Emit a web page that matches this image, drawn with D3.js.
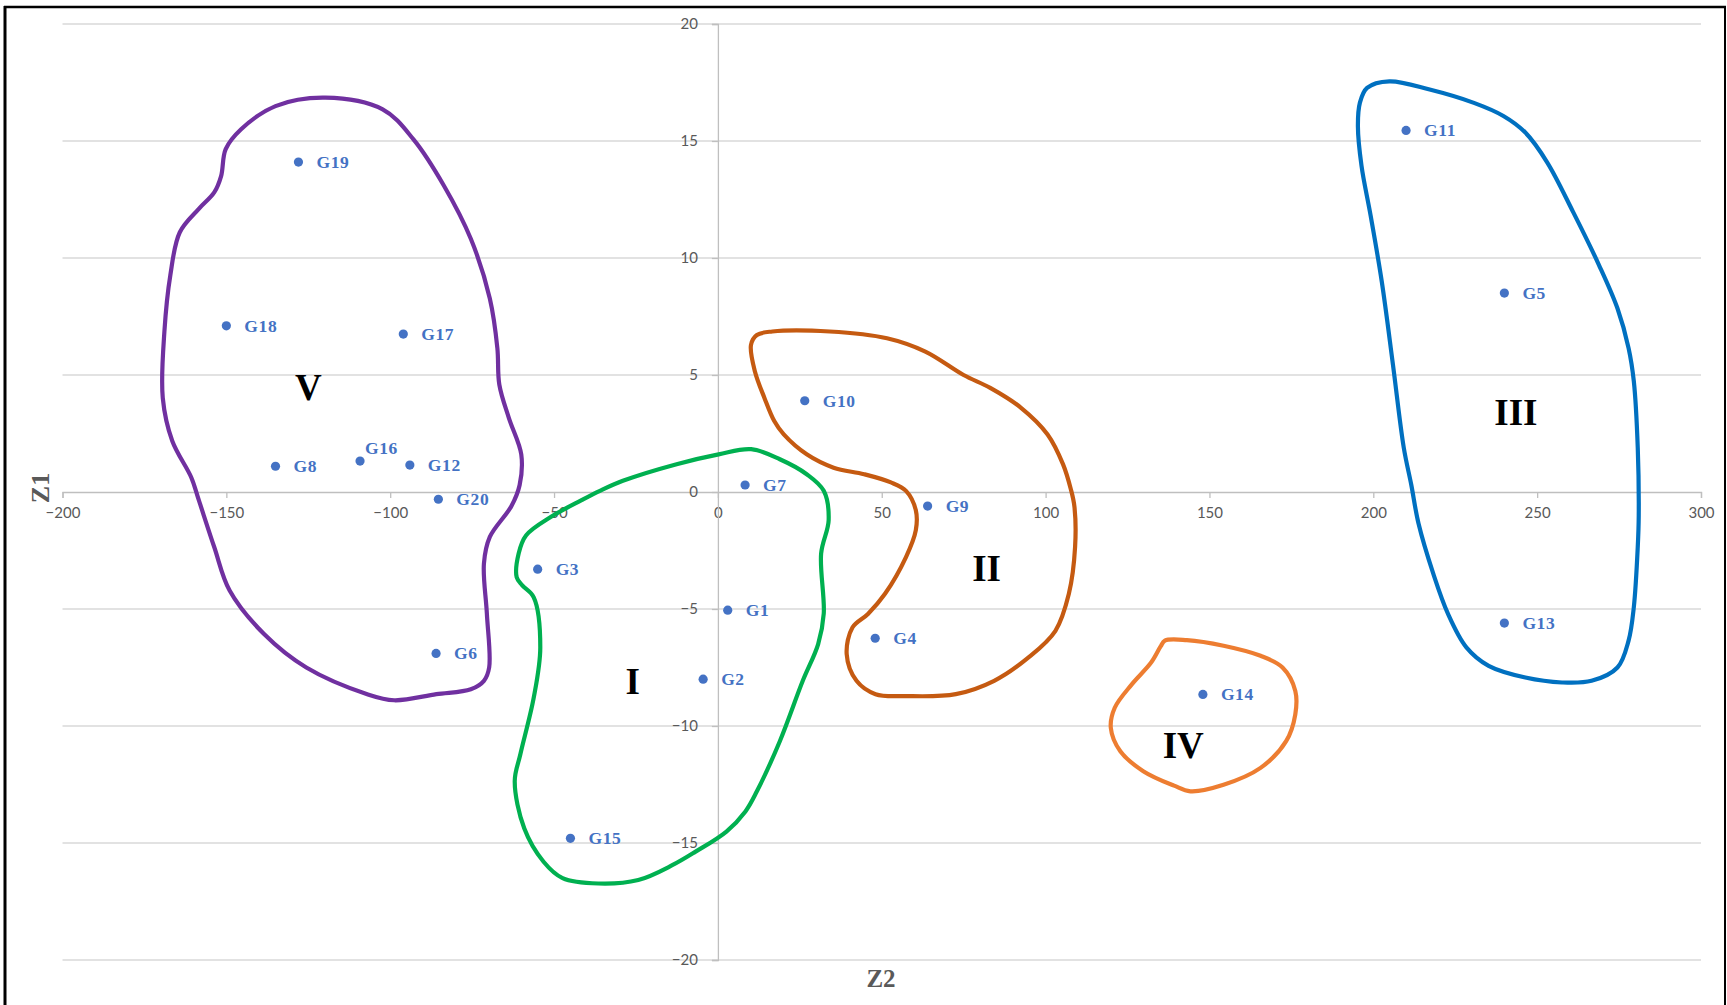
<!DOCTYPE html>
<html>
<head>
<meta charset="utf-8">
<script src="https://cdn.jsdelivr.net/npm/d3@7"></script>
<style>
  body { margin: 0; background: #ffffff; }
  svg { display: block; }
</style>
</head>
<body>
<svg id="chart" width="1727" height="1005"></svg>
<script>
// Genotype scores on the two discriminant axes
const genotypes = ["G1","G2","G3","G4","G5","G6","G7","G8","G9","G10",
                   "G11","G12","G13","G14","G15","G16","G17","G18","G19","G20"];
const z2Scores = [3, -4.5, -55, 48, 240, -86, 8.3, -135, 64, 26.5,
                  210, -94, 240, 148, -45, -109.2, -96, -150, -128, -85.3];
const z1Scores = [-5.05, -8, -3.3, -6.25, 8.5, -6.9, 0.3, 1.1, -0.6, 3.9,
                  15.45, 1.15, -5.6, -8.65, -14.8, 1.32, 6.75, 7.1, 14.1, -0.31];

// Axis ticks
const z2Ticks = [-200, -150, -100, -50, 0, 50, 100, 150, 200, 250, 300];
const z1Ticks = [-20, -15, -10, -5, 0, 5, 10, 15, 20];

// Cluster names and the hand-drawn boundaries around them (Z2, Z1)
const clusterNames = ["I", "II", "III", "IV", "V"];
const clusterCentres = [[-26, -8.1], [82, -3.3], [243.5, 3.4], [142, -10.85], [-125, 4.45]];
const boundaryI = [[10.15,1.83],[18.9,1.4],[27.1,0.76],[32.3,0.05],[33.8,-1.2],[31.5,-2.63],[32.3,-5.2],
  [30.6,-6.5],[25.9,-8.07],[18.9,-10.65],[11.9,-12.79],[8.4,-13.65],[2.6,-14.51],[-6.8,-15.37],
  [-13.8,-15.94],[-24.3,-16.58],[-36.5,-16.73],[-47.4,-16.5],[-53.2,-15.8],[-59.1,-14.37],[-62,-12.36],
  [-60.3,-11.22],[-56.2,-8.79],[-54.2,-6.64],[-56.2,-4.5],[-59.7,-3.99],[-61.4,-3.64],[-60.8,-2.63],
  [-58.5,-1.85],[-50.9,-1.06],[-41.6,-0.35],[-36,0.05],[-29,0.48],[-12.6,1.19],[0.22,1.61]];
const boundaryII = [[11.9,6.71],[16.6,6.86],[34.1,6.86],[51.6,6.57],[63.3,6.0],[74.96,5.0],[83.1,4.45],
  [92.5,3.6],[100.6,2.46],[105.3,1.19],[107.7,0.12],[108.8,-0.63],[109,-2.35],[107.1,-4.35],[103,-5.93],
  [94.8,-7.07],[84.3,-8.07],[72.6,-8.64],[57.4,-8.72],[48.1,-8.64],[42.3,-8.07],[39.3,-6.93],[41.1,-5.78],
  [45.8,-5.21],[51,-4.35],[57.4,-2.78],[60.4,-1.63],[60.4,-0.78],[57.4,0.05],[52.8,0.41],[44.6,0.76],
  [35.3,1.04],[27.1,1.61],[20.1,2.46],[17.2,3.03],[14.2,4.02],[11.3,5.15],[10.1,6.29]];
const boundaryIII = [[204.9,17.55],[217.2,17.2],[230.7,16.63],[239.7,16.07],[246.4,15.36],[253.1,14.08],
  [261,11.96],[268.9,9.69],[274.5,7.85],[277.9,6.15],[279.5,4.73],[280.7,1.89],[281,-1.0],[280.7,-2.35],
  [279.5,-4.92],[277.9,-6.35],[274.5,-7.5],[266.6,-8.07],[257.6,-8.14],[246.4,-7.93],[235.2,-7.43],
  [228.4,-6.64],[222.8,-5.21],[218.3,-3.49],[213.8,-1.35],[211.6,0.3],[209.3,1.89],[206,5.44],[202.6,8.98],
  [199.2,11.8],[196.4,13.94],[195.3,15.64],[195.9,16.63],[198.1,17.27]];
const boundaryIV = [[136.4,-6.35],[143.1,-6.33],[154.3,-6.57],[165.6,-7.0],[172.3,-7.5],[176.2,-8.5],
  [176.2,-9.5],[173.4,-10.65],[165.6,-11.79],[154.3,-12.51],[144.2,-12.79],[139.2,-12.55],[129.8,-11.93],
  [122.8,-11.08],[119.9,-10.08],[121.1,-9.22],[126.3,-8.22],[132.2,-7.29],[135.1,-6.6]];
const boundaryV = [[-119.8,16.85],[-102.3,16.35],[-92.9,15.07],[-83.6,13.09],[-75.4,10.82],[-69.6,8.27],
  [-67.3,6.15],[-66.7,4.59],[-63.8,3.17],[-60,1.6],[-60.5,0.3],[-63,-0.6],[-69.6,-1.92],[-71.4,-3.06],
  [-70.5,-5.2],[-69.8,-7.5],[-71.4,-8.07],[-75.4,-8.43],[-85.9,-8.64],[-98.8,-8.9],[-107,-8.64],
  [-125.6,-7.5],[-138.5,-6.07],[-149,-4.21],[-153.7,-2.35],[-158.4,-0.35],[-160.7,0.62],[-166.5,2.18],
  [-169.4,4.02],[-168.9,6.86],[-167.1,9.26],[-164.2,11.1],[-158.4,12.1],[-153.7,12.8],[-151.6,13.5],
  [-150.2,14.65],[-145.5,15.5],[-135,16.49]];
const clusterBoundaries = [boundaryI, boundaryII, boundaryIII, boundaryIV, boundaryV];

// Styling
const clusterColours = ["#00B050", "#C55A11", "#0070C0", "#ED7D31", "#7030A0"];
const pointColour = "#4472C4";

const svg = d3.select("#chart");

const x = d3.scaleLinear().domain([-200, 300]).range([62.5, 1701]);
const y = d3.scaleLinear().domain([-20, 20]).range([960, 24]);

// Frame
const frame = svg.append("g").attr("stroke", "#000");
frame.append("line").attr("x1", 5).attr("x2", 5).attr("y1", 6).attr("y2", 1005).attr("stroke-width", 3);
frame.append("line").attr("x1", 4).attr("x2", 1726).attr("y1", 7).attr("y2", 7).attr("stroke-width", 2.5);
frame.append("line").attr("x1", 1725).attr("x2", 1725).attr("y1", 6).attr("y2", 1005).attr("stroke-width", 2);

// Horizontal gridlines
svg.append("g")
  .selectAll("line")
  .data(z1Ticks.filter(d => d !== 0))
  .join("line")
  .attr("x1", x(-200)).attr("x2", x(300))
  .attr("y1", d => y(d)).attr("y2", d => y(d))
  .attr("stroke", "#d9d9d9").attr("stroke-width", 1.3);

// Horizontal axis through Z1 = 0
const xAxis = d3.axisBottom(x).tickValues(z2Ticks).tickSize(6).tickPadding(6).tickFormat(d3.format("d"));
const gx = svg.append("g").attr("transform", `translate(0,${y(0)})`).call(xAxis);
gx.select(".domain").attr("stroke", "#bfbfbf").attr("stroke-width", 1.3);
gx.selectAll(".tick line").attr("stroke", "#bfbfbf").attr("stroke-width", 1.3);
gx.selectAll(".tick text")
  .attr("fill", "#595959").attr("font-family", "Lato, 'Open Sans', sans-serif").attr("font-size", 15)
  .attr("dy", "0.95em");

// Vertical axis through Z2 = 0
const yAxis = d3.axisLeft(y).tickValues(z1Ticks).tickSize(6).tickPadding(14).tickFormat(d3.format("d"));
const gy = svg.append("g").attr("transform", `translate(${x(0)},0)`).call(yAxis);
gy.select(".domain").attr("stroke", "#bfbfbf").attr("stroke-width", 1.3);
gy.selectAll(".tick line").attr("stroke", "#bfbfbf").attr("stroke-width", 1.3);
gy.selectAll(".tick text")
  .attr("fill", "#595959").attr("font-family", "Lato, 'Open Sans', sans-serif").attr("font-size", 15);

// Axis titles
svg.append("text")
  .attr("transform", `translate(40,${y(0) - 4}) rotate(-90)`)
  .attr("text-anchor", "middle").attr("dy", "0.33em")
  .attr("font-family", "'Liberation Serif', 'Times New Roman', serif").attr("font-weight", "bold")
  .attr("font-size", 26).attr("fill", "#595959")
  .text("Z1");
svg.append("text")
  .attr("x", 881).attr("y", 979)
  .attr("text-anchor", "middle").attr("dy", "0.33em")
  .attr("font-family", "'Liberation Serif', 'Times New Roman', serif").attr("font-weight", "bold")
  .attr("font-size", 25).attr("fill", "#595959")
  .text("Z2");

// Cluster boundaries
const outline = d3.line()
  .x(d => x(d[0])).y(d => y(d[1]))
  .curve(d3.curveCatmullRomClosed.alpha(0.5));
svg.append("g")
  .selectAll("path")
  .data(clusterBoundaries)
  .join("path")
  .attr("d", outline)
  .attr("fill", "none")
  .attr("stroke", (d, i) => clusterColours[i])
  .attr("stroke-width", 4.2)
  .attr("stroke-linejoin", "round");

// Genotype points
const points = genotypes.map((g, i) => ({ name: g, z2: z2Scores[i], z1: z1Scores[i] }));
svg.append("g")
  .selectAll("circle")
  .data(points)
  .join("circle")
  .attr("cx", d => x(d.z2)).attr("cy", d => y(d.z1))
  .attr("r", 4.6)
  .attr("fill", pointColour);

// Genotype labels (G16 sits above-right of its point)
svg.append("g")
  .selectAll("text")
  .data(points)
  .join("text")
  .attr("x", d => x(d.z2) + (d.name === "G16" ? 5 : 18))
  .attr("y", d => y(d.z1) + (d.name === "G16" ? -7 : 0))
  .attr("dy", d => d.name === "G16" ? "0" : "0.33em")
  .attr("font-family", "'Liberation Serif', 'Times New Roman', serif")
  .attr("font-weight", "bold").attr("font-size", 17.5)
  .attr("letter-spacing", 0.6)
  .attr("fill", pointColour)
  .text(d => d.name);

// Cluster names
svg.append("g")
  .selectAll("text")
  .data(clusterNames)
  .join("text")
  .attr("x", (d, i) => x(clusterCentres[i][0]))
  .attr("y", (d, i) => y(clusterCentres[i][1]))
  .attr("text-anchor", "middle").attr("dy", "0.33em")
  .attr("font-family", "'Liberation Serif', 'Times New Roman', serif")
  .attr("font-weight", "bold").attr("font-size", 37)
  .attr("fill", "#000")
  .text(d => d);
</script>
</body>
</html>
